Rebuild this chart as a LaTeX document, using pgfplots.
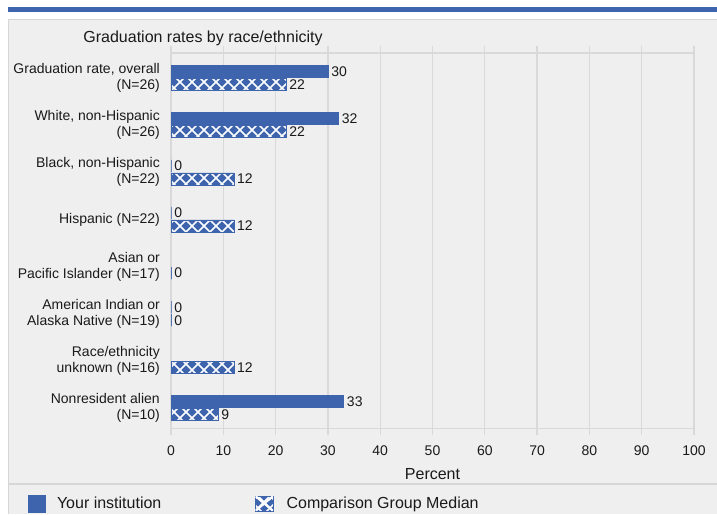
\documentclass[border=0pt]{standalone}
\usepackage{fontspec}
\setmainfont{Liberation Sans}
\usepackage{pgfplots}
\pgfplotsset{compat=1.18}
\usetikzlibrary{patterns}
\definecolor{barblue}{HTML}{3E64AD}
\definecolor{panelbg}{HTML}{EFEFEF}
\definecolor{gridgray}{HTML}{D9D9D9}
\definecolor{panelborder}{HTML}{D6D6D6}
\definecolor{txt}{HTML}{1A1A1A}
\pgfdeclarepatternformonly{diamonds}{\pgfqpoint{-1pt}{-1pt}}{\pgfqpoint{13pt}{13pt}}{\pgfqpoint{12pt}{12pt}}{%
  \pgfsetlinewidth{1.6pt}%
  \pgfpathmoveto{\pgfqpoint{0pt}{0pt}}\pgfpathlineto{\pgfqpoint{12pt}{12pt}}%
  \pgfpathmoveto{\pgfqpoint{0pt}{12pt}}\pgfpathlineto{\pgfqpoint{12pt}{0pt}}%
  \pgfusepath{stroke}}
\begin{document}
\begin{tikzpicture}
\path[use as bounding box] (0pt,0pt) rectangle (717pt,514pt);
\fill[white] (0pt,0pt) rectangle (717pt,514pt);
\fill[barblue] (8pt,502.3pt) rectangle (717pt,507.3pt);
\fill[panelbg] (8pt,0pt) rectangle (717pt,495pt);
\draw[panelborder,line width=1pt] (8.5pt,0pt) -- (8.5pt,494.5pt) -- (717pt,494.5pt);
\draw[panelborder,line width=1.3pt] (8pt,30pt) -- (717pt,30pt);
\begin{axis}[
  at={(171pt,85.7pt)}, anchor=south west,
  width=523pt, height=375.3pt, scale only axis,
  xbar, bar width=12pt,
  xmin=0, xmax=100, ymin=-0.43, ymax=7.53,
  xtick={0,10,...,100},
  ytick={0,...,7},
  yticklabels={{Nonresident alien\\(N=10)},{Race/ethnicity\\unknown (N=16)},{American Indian or\\Alaska Native (N=19)},{Asian or\\Pacific Islander (N=17)},{Hispanic (N=22)},{Black, non-Hispanic\\(N=22)},{White, non-Hispanic\\(N=26)},{Graduation rate, overall\\(N=26)}},
  /pgf/number format/assume math mode=true,
  yticklabel style={align=right, font=\fontsize{14}{16}\selectfont, text=txt, inner sep=0pt, xshift=-4pt},
  xticklabel style={font=\fontsize{14}{16}\selectfont, text=txt, inner sep=0pt, yshift=-10.5pt},
  ytick style={draw=none},
  tick align=outside, major tick length=7pt,
  xtick style={draw=gridgray, line width=1.3pt},
  xmajorgrids, grid style={draw=gridgray, line width=1.3pt},
  axis line style={draw=gridgray, line width=1.3pt},
  axis background/.style={fill=panelbg},
  xlabel={Percent},
  xlabel style={font=\fontsize{16}{18}\selectfont, text=txt, inner sep=0pt, yshift=-12pt},
  nodes near coords,
  point meta=x,
  nodes near coords style={font=\fontsize{14}{16}\selectfont, text=txt, anchor=west, inner sep=0pt, xshift=3pt},
  legend columns=2,
  legend style={at={(axis description cs:-0.2734,-0.2004)}, anchor=west, draw=none, fill=none, inner sep=0pt,
    font=\fontsize{16}{18}\selectfont, text=txt,
    /tikz/every odd column/.style={column sep=9pt}},
  legend image code/.code={\fill[#1] (0pt,-8.5pt) rectangle (17pt,8.5pt);},
  clip=false,
]
\addplot[bar shift=6.5pt, fill=barblue, draw=barblue, line width=0.8pt] coordinates {
  (33,0) (0,2) (0,4) (0,5) (32,6) (30,7)
};
\addlegendentry{\makebox[196pt][l]{Your institution}}
\addplot[bar shift=-6.5pt, fill=barblue, draw=barblue, line width=0.5pt, postaction={pattern=diamonds, pattern color=white},
  legend image code/.code={\fill[barblue] (0pt,-7.5pt) rectangle (18pt,7.5pt);
    \draw[white, line width=1.8pt] (0.6pt,-7pt) -- (17.4pt,7pt) (0.6pt,7pt) -- (17.4pt,-7pt);
    \path (20pt,0pt);}] coordinates {
  (9,0) (12,1) (0,2) (0,3) (12,4) (12,5) (22,6) (22,7)
};
\addlegendentry{Comparison Group Median}
\node[font=\fontsize{16}{18}\selectfont, text=txt] at (axis description cs:0.0612,1.04) {Graduation rates by race/ethnicity};
\end{axis}
\end{tikzpicture}
\end{document}
